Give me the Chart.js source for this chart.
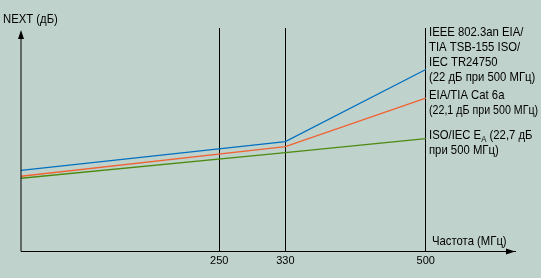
<!DOCTYPE html>
<html>
<head>
<meta charset="utf-8">
<script src="https://cdn.jsdelivr.net/npm/chart.js@4.4.1/dist/chart.umd.min.js"></script>
<style>
  html, body { margin: 0; padding: 0; background: #c0d2cc; }
  canvas { display: block; }
</style>
</head>
<body>
<canvas id="nextChart" width="541" height="278"></canvas>
<script>
// Frequency points (MHz) and NEXT curves (relative units)
const freqs = [10, 330, 500];
const ieeeNext = [8.2, 11.1, 18.4];
const cat6aNext = [7.6, 10.6, 15.5];
const isoNext = [7.4, 10.0, 11.4];
const xTicks = [250, 330, 500];

const ieeeLabel = ["IEEE 802.3an EIA/", "TIA TSB-155 ISO/", "IEC TR24750", "(22 дБ при 500 МГц)"];
const cat6aLabel = ["EIA/TIA Cat 6a", "(22,1 дБ при 500 МГц)"];
const isoLabel = ["ISO/IEC E", "A", " (22,7 дБ", "при 500 МГц)"];
const yTitle = "NEXT (дБ)";
const xTitle = "Частота (МГц)";

const FONT = "'Liberation Sans', Arial, sans-serif";
const SQUEEZE = 0.87; // the original uses a condensed face

function points(ys) {
  return freqs.map((f, i) => ({ x: f, y: ys[i] }));
}

// draw narrowed text, returns its width
function narrowText(ctx, t, x, y, squeeze = SQUEEZE) {
  ctx.save();
  ctx.translate(x, y);
  ctx.scale(squeeze, 1);
  ctx.fillText(t, 0, 0);
  ctx.restore();
  return ctx.measureText(t).width * squeeze;
}

// axes with arrows + text labels
const annotations = {
  id: "annotations",
  afterDraw(chart) {
    const ctx = chart.ctx;
    const area = chart.chartArea;
    ctx.save();
    ctx.strokeStyle = "#000";
    ctx.fillStyle = "#000";
    ctx.lineWidth = 1;

    // y axis
    ctx.beginPath();
    ctx.moveTo(area.left, area.bottom);
    ctx.lineTo(area.left, 36);
    ctx.stroke();
    ctx.beginPath();
    ctx.moveTo(area.left, 30);
    ctx.lineTo(area.left - 3, 39);
    ctx.lineTo(area.left + 3, 39);
    ctx.closePath();
    ctx.fill();

    // x arrow head
    ctx.beginPath();
    ctx.moveTo(area.right, area.bottom);
    ctx.lineTo(area.right - 9, area.bottom - 3);
    ctx.lineTo(area.right - 9, area.bottom + 3);
    ctx.closePath();
    ctx.fill();

    ctx.font = "13px " + FONT;
    ctx.textBaseline = "middle";
    ctx.textAlign = "left";
    narrowText(ctx, yTitle, 3, 19);
    narrowText(ctx, xTitle, 432, 241);

    const lx = 429;
    ieeeLabel.forEach((t, i) => narrowText(ctx, t, lx, 32 + i * 15));
    narrowText(ctx, cat6aLabel[0], lx, 95);
    narrowText(ctx, cat6aLabel[1], lx, 110, 0.82); // set tighter in the original

    // ISO/IEC E_A with subscript
    let x = lx;
    x += narrowText(ctx, isoLabel[0], x, 135);
    ctx.font = "9px " + FONT;
    x += narrowText(ctx, isoLabel[1], x, 140);
    ctx.font = "13px " + FONT;
    narrowText(ctx, isoLabel[2], x, 135);
    narrowText(ctx, isoLabel[3], lx, 150);
    ctx.restore();
  }
};

const ctxNext = document.getElementById("nextChart").getContext("2d");
const nextChart = new Chart(ctxNext, {
  type: "line",
  data: {
    datasets: [
      { label: "IEEE 802.3an", data: points(ieeeNext), borderColor: "#0070c0" },
      { label: "EIA/TIA Cat 6a", data: points(cat6aNext), borderColor: "#f06232" },
      { label: "ISO/IEC EA", data: points(isoNext), borderColor: "#4c8a10" },
    ],
  },
  options: {
    responsive: false,
    animation: false,
    layout: { padding: { left: 21, right: 26, top: 28, bottom: 7.4 } },
    elements: {
      line: { borderWidth: 1.3, tension: 0 },
      point: { radius: 0 },
    },
    plugins: { legend: { display: false }, tooltip: { enabled: false } },
    scales: {
      x: {
        type: "linear",
        min: 10,
        max: 608,
        afterBuildTicks: (scale) => {
          scale.ticks = xTicks.map((v) => ({ value: v }));
        },
        ticks: { color: "#000", padding: 3, font: { family: FONT, size: 11 } },
        grid: { color: "#000", lineWidth: 1, drawTicks: false },
        border: { display: true, color: "#000", width: 1 },
      },
      y: { display: false, min: 0, max: 22.6 },
    },
  },
  plugins: [annotations],
});
</script>
</body>
</html>
